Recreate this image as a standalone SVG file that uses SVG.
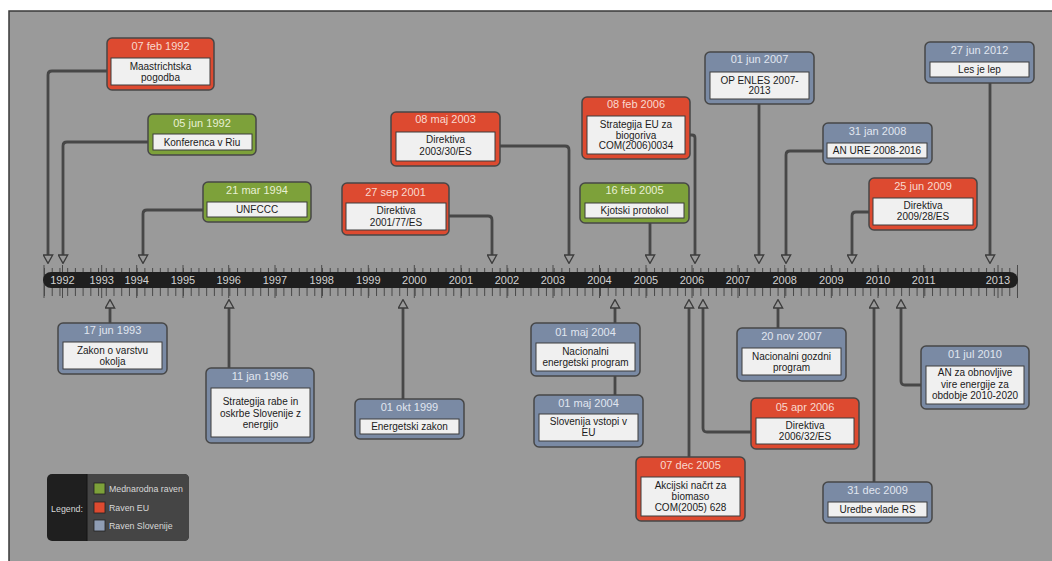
<svg xmlns="http://www.w3.org/2000/svg" width="1052" height="561" viewBox="0 0 1052 561">
<defs>
<style>
.outer{stroke:#474747;stroke-width:1.5}
.eu .outer{fill:#dd4a30}
.intl .outer{fill:#7da13a}
.si .outer{fill:#7a8aa4}
.inner{fill:#f0f0f0;stroke:#3d3d3d;stroke-width:1}
.date{font-family:"Liberation Sans",Arial,sans-serif;font-size:11px;text-anchor:middle}
.eu .date{fill:#f9d9cf}
.intl .date{fill:#e8f0d4}
.si .date{fill:#e0e6f0}
.lbl{font-family:"Liberation Sans",Arial,sans-serif;font-size:10px;fill:#1b1b1b;text-anchor:middle}
.conn{fill:none;stroke:#474747;stroke-width:2.8;marker-end:url(#arr)}
.year{font-family:"Liberation Sans",Arial,sans-serif;font-size:11px;fill:#d2d2d2;text-anchor:middle}
.leg{font-family:"Liberation Sans",Arial,sans-serif;font-size:8.8px;fill:#d8d8d8}
</style>
<marker id="arr" viewBox="0 0 10 11" refX="0.8" refY="5.5" markerWidth="10" markerHeight="11" markerUnits="userSpaceOnUse" orient="auto">
<path d="M0.8,0.8 L9.2,5.5 L0.8,10.2 Z" fill="#9a9a9a" stroke="#3c3c3c" stroke-width="1.3"/>
</marker>
</defs>
<rect width="1052" height="561" fill="#ffffff"/>
<rect x="9" y="11" width="1043" height="550" fill="#9a9a9a"/>
<path d="M9,561 V11 H1052" fill="none" stroke="#3a3a3a" stroke-width="1.5"/>

<g id="timeline">
<line x1="44" y1="282" x2="1018" y2="282" stroke="#4a4a4a" stroke-width="28" stroke-dasharray="1 6.722"/>
<path d="M44,265 V298 M1017.5,265 V298 M62.5,265 V298 M101.7,265 V298 M136.7,265 V298 M183,265 V298 M228.7,265 V298 M275,265 V298 M321.7,265 V298 M368.3,265 V298 M414.3,265 V298 M461,265 V298 M507,265 V298 M553,265 V298 M599.5,265 V298 M646,265 V298 M692,265 V298 M738,265 V298 M784.7,265 V298 M831.3,265 V298 M878,265 V298 M923.7,265 V298 M998,265 V298" stroke="#4a4a4a" stroke-width="1"/>
<rect x="43" y="272" width="975" height="16" rx="8" fill="#1f1f1f"/>
<text class="year" x="62.5" y="284">1992</text>
<text class="year" x="101.7" y="284">1993</text>
<text class="year" x="136.7" y="284">1994</text>
<text class="year" x="183" y="284">1995</text>
<text class="year" x="228.7" y="284">1996</text>
<text class="year" x="275" y="284">1997</text>
<text class="year" x="321.7" y="284">1998</text>
<text class="year" x="368.3" y="284">1999</text>
<text class="year" x="414.3" y="284">2000</text>
<text class="year" x="461" y="284">2001</text>
<text class="year" x="507" y="284">2002</text>
<text class="year" x="553" y="284">2003</text>
<text class="year" x="599.5" y="284">2004</text>
<text class="year" x="646" y="284">2005</text>
<text class="year" x="692" y="284">2006</text>
<text class="year" x="738" y="284">2007</text>
<text class="year" x="784.7" y="284">2008</text>
<text class="year" x="831.3" y="284">2009</text>
<text class="year" x="878" y="284">2010</text>
<text class="year" x="923.7" y="284">2011</text>
<text class="year" x="998" y="284">2013</text>
</g>

<g id="connectors">
<path class="conn" d="M107,71 H52 Q48,71 48,75 V255"/>
<path class="conn" d="M148,142 H67 Q63,142 63,146 V255"/>
<path class="conn" d="M203,210 H147 Q143,210 143,214 V255"/>
<path class="conn" d="M449,216 H488 Q492,216 492,220 V255"/>
<path class="conn" d="M500,146 H565 Q569,146 569,150 V255"/>
<path class="conn" d="M650,223 V255"/>
<path class="conn" d="M690,135 H692 Q695,135 695,138 V255"/>
<path class="conn" d="M759,104 V255"/>
<path class="conn" d="M823,151 H790 Q786,151 786,155 V255"/>
<path class="conn" d="M869,212 H856 Q852,212 852,216 V255"/>
<path class="conn" d="M990,83 V255"/>
<path class="conn" d="M110,323 V308"/>
<path class="conn" d="M229,368 V308"/>
<path class="conn" d="M403,399 V308"/>
<path class="conn" d="M615,395 V308"/>
<path class="conn" d="M689,457 V308"/>
<path class="conn" d="M751,432 H707 Q703,432 703,428 V308"/>
<path class="conn" d="M778,328 V308"/>
<path class="conn" d="M874,482 V308"/>
<path class="conn" d="M921,385 H905 Q901,385 901,381 V308"/>
</g>

<g id="n1" class="node eu">
<rect class="outer" x="107" y="38" width="107" height="52" rx="5"/>
<text class="date" x="160.5" y="50">07 feb 1992</text>
<rect class="inner" x="111" y="58" width="99" height="27"/>
<text class="lbl" x="160.5" y="69.5">Maastrichtska</text>
<text class="lbl" x="160.5" y="80.5">pogodba</text>
</g>
<g id="n2" class="node intl">
<rect class="outer" x="148" y="114" width="108" height="41" rx="5"/>
<text class="date" x="202" y="126.5">05 jun 1992</text>
<rect class="inner" x="153" y="134" width="99" height="16"/>
<text class="lbl" x="202" y="145.5">Konferenca v Riu</text>
</g>
<g id="n3" class="node intl">
<rect class="outer" x="203" y="182" width="108" height="40" rx="5"/>
<text class="date" x="257" y="194">21 mar 1994</text>
<rect class="inner" x="207" y="202" width="100" height="15"/>
<text class="lbl" x="257" y="213">UNFCCC</text>
</g>
<g id="n4" class="node eu">
<rect class="outer" x="342" y="183" width="107" height="52" rx="5"/>
<text class="date" x="395.5" y="195.5">27 sep 2001</text>
<rect class="inner" x="346" y="203" width="100" height="27"/>
<text class="lbl" x="396" y="214">Direktiva</text>
<text class="lbl" x="396" y="226">2001/77/ES</text>
</g>
<g id="n5" class="node eu">
<rect class="outer" x="391" y="112" width="109" height="54" rx="5"/>
<text class="date" x="445.5" y="123">08 maj 2003</text>
<rect class="inner" x="396" y="132" width="99" height="29"/>
<text class="lbl" x="445.5" y="143">Direktiva</text>
<text class="lbl" x="445.5" y="154.5">2003/30/ES</text>
</g>
<g id="n6" class="node eu">
<rect class="outer" x="582" y="97" width="108" height="62" rx="5"/>
<text class="date" x="636" y="108">08 feb 2006</text>
<rect class="inner" x="587" y="116" width="98" height="38"/>
<text class="lbl" x="636" y="127.5">Strategija EU za</text>
<text class="lbl" x="636" y="138.5">biogoriva</text>
<text class="lbl" x="636" y="149">COM(2006)0034</text>
</g>
<g id="n7" class="node intl">
<rect class="outer" x="580" y="183" width="109" height="40" rx="5"/>
<text class="date" x="634.5" y="194">16 feb 2005</text>
<rect class="inner" x="585" y="203" width="99" height="15"/>
<text class="lbl" x="634.5" y="213.5">Kjotski protokol</text>
</g>
<g id="n8" class="node si">
<rect class="outer" x="705" y="52" width="109" height="52" rx="5"/>
<text class="date" x="759.5" y="63">01 jun 2007</text>
<rect class="inner" x="710" y="72" width="99" height="27"/>
<text class="lbl" x="759.5" y="83.5">OP ENLES 2007-</text>
<text class="lbl" x="759.5" y="94">2013</text>
</g>
<g id="n9" class="node si">
<rect class="outer" x="925" y="42" width="109" height="41" rx="5"/>
<text class="date" x="979.5" y="54">27 jun 2012</text>
<rect class="inner" x="930" y="62" width="99" height="15"/>
<text class="lbl" x="979.5" y="73">Les je lep</text>
</g>
<g id="n10" class="node si">
<rect class="outer" x="823" y="123" width="109" height="41" rx="5"/>
<text class="date" x="877.5" y="134.5">31 jan 2008</text>
<rect class="inner" x="827" y="143" width="100" height="15"/>
<text class="lbl" x="877" y="154">AN URE 2008-2016</text>
</g>
<g id="n11" class="node eu">
<rect class="outer" x="869" y="178" width="108" height="52" rx="5"/>
<text class="date" x="923" y="190">25 jun 2009</text>
<rect class="inner" x="873" y="198" width="100" height="27"/>
<text class="lbl" x="923" y="208.5">Direktiva</text>
<text class="lbl" x="923" y="219.5">2009/28/ES</text>
</g>

<g id="n12" class="node si">
<rect class="outer" x="58" y="323" width="109" height="51" rx="5"/>
<text class="date" x="112.5" y="334">17 jun 1993</text>
<rect class="inner" x="63" y="342" width="99" height="27"/>
<text class="lbl" x="112.5" y="353.5">Zakon o varstvu</text>
<text class="lbl" x="112.5" y="365">okolja</text>
</g>
<g id="n13" class="node si">
<rect class="outer" x="206" y="368" width="108" height="75" rx="5"/>
<text class="date" x="260" y="380">11 jan 1996</text>
<rect class="inner" x="211" y="388" width="99" height="49"/>
<text class="lbl" x="260.5" y="405">Strategija rabe in</text>
<text class="lbl" x="260.5" y="416.5">oskrbe Slovenije z</text>
<text class="lbl" x="260.5" y="428">energijo</text>
</g>
<g id="n14" class="node si">
<rect class="outer" x="355" y="399" width="109" height="40" rx="5"/>
<text class="date" x="409.5" y="411">01 okt 1999</text>
<rect class="inner" x="360" y="419" width="99" height="15"/>
<text class="lbl" x="409.5" y="430">Energetski zakon</text>
</g>
<g id="n15" class="node si">
<rect class="outer" x="531" y="323" width="109" height="53" rx="5"/>
<text class="date" x="585.5" y="336">01 maj 2004</text>
<rect class="inner" x="536" y="343" width="99" height="28"/>
<text class="lbl" x="585.5" y="354.5">Nacionalni</text>
<text class="lbl" x="585.5" y="365.5">energetski program</text>
</g>
<g id="n16" class="node si">
<rect class="outer" x="534" y="395" width="109" height="52" rx="5"/>
<text class="date" x="588.5" y="406.5">01 maj 2004</text>
<rect class="inner" x="539" y="414" width="99" height="27"/>
<text class="lbl" x="588.5" y="425">Slovenija vstopi v</text>
<text class="lbl" x="588.5" y="436">EU</text>
</g>
<g id="n17" class="node eu">
<rect class="outer" x="636" y="457" width="109" height="64" rx="5"/>
<text class="date" x="690.5" y="469">07 dec 2005</text>
<rect class="inner" x="641" y="477" width="99" height="39"/>
<text class="lbl" x="690.5" y="488.5">Akcijski načrt za</text>
<text class="lbl" x="690.5" y="499.5">biomaso</text>
<text class="lbl" x="690.5" y="511">COM(2005) 628</text>
</g>
<g id="n18" class="node eu">
<rect class="outer" x="751" y="398" width="108" height="51" rx="5"/>
<text class="date" x="805" y="410.5">05 apr 2006</text>
<rect class="inner" x="756" y="418" width="98" height="26"/>
<text class="lbl" x="805" y="429">Direktiva</text>
<text class="lbl" x="805" y="440">2006/32/ES</text>
</g>
<g id="n19" class="node si">
<rect class="outer" x="737" y="328" width="109" height="53" rx="5"/>
<text class="date" x="791.5" y="340">20 nov 2007</text>
<rect class="inner" x="742" y="348" width="99" height="27"/>
<text class="lbl" x="791.5" y="360">Nacionalni gozdni</text>
<text class="lbl" x="791.5" y="371">program</text>
</g>
<g id="n20" class="node si">
<rect class="outer" x="823" y="482" width="109" height="41" rx="5"/>
<text class="date" x="877.5" y="494">31 dec 2009</text>
<rect class="inner" x="828" y="502" width="99" height="15"/>
<text class="lbl" x="877.5" y="513">Uredbe vlade RS</text>
</g>
<g id="n21" class="node si">
<rect class="outer" x="921" y="346" width="108" height="63" rx="5"/>
<text class="date" x="975" y="358">01 jul 2010</text>
<rect class="inner" x="926" y="366" width="98" height="38"/>
<text class="lbl" x="975" y="376">AN za obnovljive</text>
<text class="lbl" x="975" y="387.5">vire energije za</text>
<text class="lbl" x="975" y="399">obdobje 2010-2020</text>
</g>

<g id="legend">
<rect x="47" y="474" width="142" height="67" rx="5" fill="#1f1f1f"/>
<path d="M87,474 H184 Q189,474 189,479 V536 Q189,541 184,541 H87 Z" fill="#454545"/>
<line x1="87" y1="474" x2="87" y2="541" stroke="#151515" stroke-width="1"/>
<text class="leg" x="67" y="512" text-anchor="middle">Legend:</text>
<rect x="94" y="483" width="11" height="11" fill="#7da13a" stroke="#222" stroke-width="0.8"/>
<rect x="94" y="502" width="11" height="11" fill="#dd4a30" stroke="#222" stroke-width="0.8"/>
<rect x="94" y="520" width="11" height="11" fill="#8f9db4" stroke="#222" stroke-width="0.8"/>
<text class="leg" x="109" y="491.5">Mednarodna raven</text>
<text class="leg" x="109" y="510.5">Raven EU</text>
<text class="leg" x="109" y="529">Raven Slovenije</text>
</g>
</svg>
